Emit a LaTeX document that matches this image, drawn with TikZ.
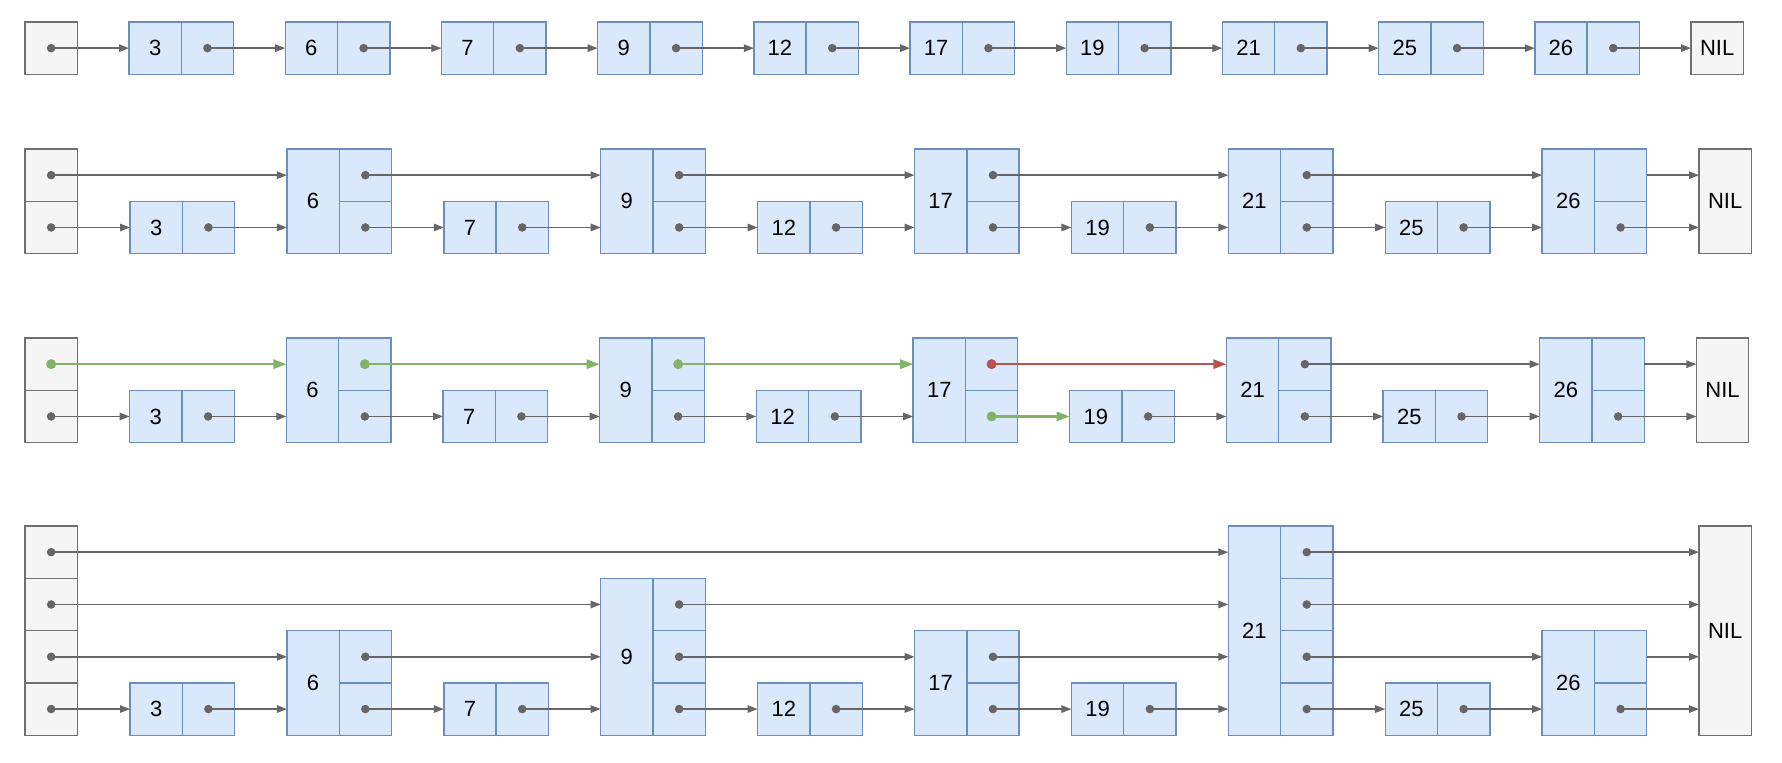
\documentclass[tikz,border=0pt]{standalone}
\usepackage{fontspec}
\setmainfont{Liberation Sans}
\usetikzlibrary{arrows.meta}
\definecolor{bfill}{HTML}{DAE8FC}
\definecolor{bdraw}{HTML}{6C8EBF}
\definecolor{gfill}{HTML}{F5F5F5}
\definecolor{gdraw}{HTML}{707070}
\definecolor{lc}{HTML}{666666}
\definecolor{grn}{HTML}{82B366}
\definecolor{rd}{HTML}{B85450}
\def\CW{52.3}
\def\CH{52.3}
\tikzset{
  cellbase/.style={rectangle, inner sep=0pt, outer sep=0pt, line width=0.7pt,
    minimum width=26.15pt, minimum height=26.15pt,
    font=\fontsize{11}{13}\selectfont, text=black},
  keycell/.style={cellbase, fill=bfill, draw=bdraw},
  ptrcell/.style={cellbase, fill=bfill, draw=bdraw},
  headcell/.style={cellbase, fill=gfill, draw=gdraw},
  ptr/.style={draw=lc, line width=0.75pt, -{Triangle[length=5pt,width=3.7pt]}},
  hot/.style={line width=1.1pt, -{Triangle[length=6.5pt,width=4.6pt]}}
}
\newcommand{\blk}[5]{%
  \node[keycell, minimum height=#4*26.15pt, anchor=south west] (#1) at (#2,#3) {#5};
  \foreach \i in {1,...,#4}{\node[ptrcell, anchor=south west] (#1-\i) at ({#2+\CW},{#3-(\i-1)*\CH}) {};}%
}
\newcommand{\hd}[3]{%
  \foreach \i in {1,...,#3}{\node[headcell, anchor=south west] (#1-\i) at (25,{#2-(\i-1)*\CH}) {};}%
}
\newcommand{\nilbox}[4]{%
  \node[headcell, minimum height=#4*26.15pt, anchor=south west] (#1) at (#2,#3) {NIL};%
}
\newcommand{\lk}[2]{\fill[lc] (#1.center) circle (2.15pt); \draw[ptr] (#1.center) -- (#1.center -| #2.west);}
\newcommand{\lke}[2]{\draw[ptr] (#1.east) -- (#1.east -| #2.west);}
\newcommand{\lkc}[3]{\fill[#3] (#1.center) circle (2.5pt); \draw[ptr, hot, draw=#3] (#1.center) -- (#1.center -| #2.west);}
\begin{document}
\begin{tikzpicture}[x=0.5pt, y=-0.5pt]
\useasboundingbox (0,0) rectangle (1782,762);
% ---------- Row 1 ----------
\hd{a0}{74.3}{1}
\blk{a1}{129}{74.3}{1}{3}
\blk{a2}{285.2}{74.3}{1}{6}
\blk{a3}{441.4}{74.3}{1}{7}
\blk{a4}{597.6}{74.3}{1}{9}
\blk{a5}{753.8}{74.3}{1}{12}
\blk{a6}{910}{74.3}{1}{17}
\blk{a7}{1066.2}{74.3}{1}{19}
\blk{a8}{1222.4}{74.3}{1}{21}
\blk{a9}{1378.6}{74.3}{1}{25}
\blk{a10}{1534.8}{74.3}{1}{26}
\nilbox{aN}{1691}{74.3}{1}
\foreach \p/\q in {a0-1/a1,a1-1/a2,a2-1/a3,a3-1/a4,a4-1/a5,a5-1/a6,a6-1/a7,a7-1/a8,a8-1/a9,a9-1/a10,a10-1/aN}{\lk{\p}{\q}}
% ---------- Row 2 ----------
\hd{b0}{253.6}{2}
\blk{b1}{130}{253.6}{1}{3}
\blk{b2}{286.9}{253.6}{2}{6}
\blk{b3}{443.8}{253.6}{1}{7}
\blk{b4}{600.7}{253.6}{2}{9}
\blk{b5}{757.6}{253.6}{1}{12}
\blk{b6}{914.5}{253.6}{2}{17}
\blk{b7}{1071.4}{253.6}{1}{19}
\blk{b8}{1228.3}{253.6}{2}{21}
\blk{b9}{1385.2}{253.6}{1}{25}
\blk{b10}{1542.1}{253.6}{2}{26}
\nilbox{bN}{1699}{253.6}{2}
\foreach \p/\q in {b0-1/b1,b1-1/b2,b2-1/b3,b3-1/b4,b4-1/b5,b5-1/b6,b6-1/b7,b7-1/b8,b8-1/b9,b9-1/b10,b10-1/bN,
  b0-2/b2,b2-2/b4,b4-2/b6,b6-2/b8,b8-2/b10}{\lk{\p}{\q}}
\lke{b10-2}{bN}
% ---------- Row 3 ----------
\hd{c0}{442.6}{2}
\blk{c1}{129.7}{442.6}{1}{3}
\blk{c2}{286.4}{442.6}{2}{6}
\blk{c3}{443.0}{442.6}{1}{7}
\blk{c4}{599.7}{442.6}{2}{9}
\blk{c5}{756.4}{442.6}{1}{12}
\blk{c6}{913.1}{442.6}{2}{17}
\blk{c7}{1069.7}{442.6}{1}{19}
\blk{c8}{1226.4}{442.6}{2}{21}
\blk{c9}{1383.1}{442.6}{1}{25}
\blk{c10}{1539.7}{442.6}{2}{26}
\nilbox{cN}{1696.4}{442.6}{2}
\foreach \p/\q in {c0-1/c1,c1-1/c2,c2-1/c3,c3-1/c4,c4-1/c5,c5-1/c6,c7-1/c8,c8-1/c9,c9-1/c10,c10-1/cN,
  c8-2/c10}{\lk{\p}{\q}}
\lke{c10-2}{cN}
\lkc{c0-2}{c2}{grn}
\lkc{c2-2}{c4}{grn}
\lkc{c4-2}{c6}{grn}
\lkc{c6-2}{c8}{rd}
\lkc{c6-1}{c7}{grn}
% ---------- Row 4 ----------
\hd{d0}{735.2}{4}
\blk{d1}{130}{735.2}{1}{3}
\blk{d2}{286.9}{735.2}{2}{6}
\blk{d3}{443.8}{735.2}{1}{7}
\blk{d4}{600.7}{735.2}{3}{9}
\blk{d5}{757.6}{735.2}{1}{12}
\blk{d6}{914.5}{735.2}{2}{17}
\blk{d7}{1071.4}{735.2}{1}{19}
\blk{d8}{1228.3}{735.2}{4}{21}
\blk{d9}{1385.2}{735.2}{1}{25}
\blk{d10}{1542.1}{735.2}{2}{26}
\nilbox{dN}{1699}{735.2}{4}
\foreach \p/\q in {d0-1/d1,d1-1/d2,d2-1/d3,d3-1/d4,d4-1/d5,d5-1/d6,d6-1/d7,d7-1/d8,d8-1/d9,d9-1/d10,d10-1/dN,
  d0-2/d2,d2-2/d4,d4-2/d6,d6-2/d8,d8-2/d10,
  d0-3/d4,d4-3/d8,d8-3/dN,
  d0-4/d8,d8-4/dN}{\lk{\p}{\q}}
\lke{d10-2}{dN}
\end{tikzpicture}
\end{document}
